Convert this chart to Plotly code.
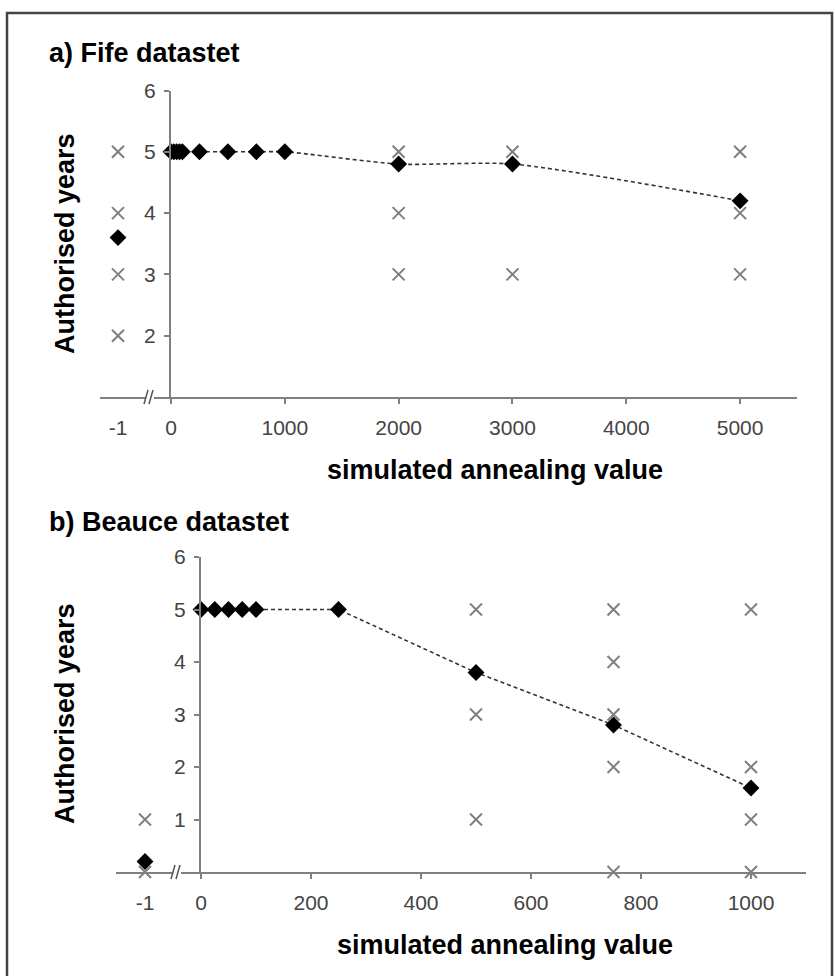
import plotly.graph_objects as go

W, H = 835, 976

# ---------------- data ----------------
fife_sa = [-1, 0, 25, 50, 75, 100, 250, 500, 750, 1000, 2000, 3000, 5000]
fife_mean = [3.6, 5, 5, 5, 5, 5, 5, 5, 5, 5, 4.8, 4.8, 4.2]
fife_run_x = [-1, -1, -1, -1, 2000, 2000, 2000, 3000, 3000, 5000, 5000, 5000]
fife_run_y = [5, 4, 3, 2, 5, 4, 3, 5, 3, 5, 4, 3]

beauce_sa = [-1, 0, 25, 50, 75, 100, 250, 500, 750, 1000]
beauce_mean = [0.2, 5, 5, 5, 5, 5, 5, 3.8, 2.8, 1.6]
beauce_run_x = [-1, -1, 500, 500, 500, 750, 750, 750, 750, 750, 1000, 1000, 1000, 1000]
beauce_run_y = [1, 0, 5, 3, 1, 5, 4, 3, 2, 0, 5, 2, 1, 0]

fife_xticks = [0, 1000, 2000, 3000, 4000, 5000]
beauce_xticks = [0, 200, 400, 600, 800, 1000]
fife_yticks = [2, 3, 4, 5, 6]
beauce_yticks = [1, 2, 3, 4, 5, 6]

# ---------------- helpers ----------------
def px(x):
    return x / W

def py(y):
    return 1 - y / H

CROSS = "#7f7f7f"
AXIS = "#808080"
TICKFONT = dict(family="Liberation Sans, Arial", size=21, color="#444444")
BOLD = "Liberation Sans, Arial"


def split(xs, ys):
    brk = [(x, y) for x, y in zip(xs, ys) if x < 0]
    main = [(x, y) for x, y in zip(xs, ys) if x >= 0]
    return brk, main


fig = go.Figure()


def add_panel(sa, mean, rx, ry, xm, xb, ya, shape, smooth):
    (bm, mm) = split(sa, mean)
    (br, mr) = split(rx, ry)
    cross = dict(symbol="x-thin", size=12, line=dict(color=CROSS, width=2), color=CROSS)
    diam = dict(symbol="diamond", size=13, color="black")
    fig.add_trace(go.Scatter(x=[p[0] for p in mr], y=[p[1] for p in mr], mode="markers",
                             marker=cross, xaxis=xm, yaxis=ya, cliponaxis=False,
                             showlegend=False))
    fig.add_trace(go.Scatter(x=[p[0] for p in br], y=[p[1] for p in br], mode="markers",
                             marker=cross, xaxis=xb, yaxis=ya, cliponaxis=False,
                             showlegend=False))
    line = dict(color="#333333", width=1.6, dash="4px,3px", shape=shape)
    if shape == "spline":
        line["smoothing"] = smooth
    fig.add_trace(go.Scatter(x=[p[0] for p in mm], y=[p[1] for p in mm], mode="lines",
                             line=line, xaxis=xm, yaxis=ya, cliponaxis=False,
                             showlegend=False))
    fig.add_trace(go.Scatter(x=[p[0] for p in mm], y=[p[1] for p in mm], mode="markers",
                             marker=diam, xaxis=xm, yaxis=ya, cliponaxis=False,
                             showlegend=False))
    fig.add_trace(go.Scatter(x=[p[0] for p in bm], y=[p[1] for p in bm], mode="markers",
                             marker=diam, xaxis=xb, yaxis=ya, cliponaxis=False,
                             showlegend=False))


add_panel(fife_sa, fife_mean, fife_run_x, fife_run_y, "x", "x2", "y", "spline", 0.7)
add_panel(beauce_sa, beauce_mean, beauce_run_x, beauce_run_y, "x3", "x4", "y2", "linear", 0)

main_x = dict(showgrid=False, zeroline=False, showline=True, linecolor=AXIS, linewidth=2,
              ticks="outside", ticklen=5, tickwidth=1.5, tickcolor=AXIS, tickfont=TICKFONT,
              ticklabelstandoff=6, automargin=False)
brk_x = dict(showgrid=False, zeroline=False, showline=True, linecolor=AXIS, linewidth=2,
             ticks="", tickfont=TICKFONT, ticklabelstandoff=11, tickvals=[-1], ticktext=["-1"],
             automargin=False)
ax_y = dict(showgrid=False, zeroline=False, showline=True, linecolor=AXIS, linewidth=2,
            ticks="outside", ticklen=5, tickwidth=1.5, tickcolor=AXIS, tickfont=TICKFONT,
            ticklabelstandoff=4, automargin=False)

fig.update_layout(
    width=W, height=H,
    margin=dict(l=0, r=0, t=0, b=0, autoexpand=False),
    paper_bgcolor="white", plot_bgcolor="rgba(0,0,0,0)",
    xaxis=dict(main_x, domain=[px(171), px(797)], range=[0, 5500], tickvals=fife_xticks,
               anchor="y"),
    xaxis2=dict(brk_x, domain=[px(100), px(171)], range=[-1 - 18 / 71, -18 / 71], anchor="y"),
    yaxis=dict(ax_y, domain=[py(397), py(90.5)], range=[1, 6], tickvals=fife_yticks,
               anchor="x"),
    xaxis3=dict(main_x, domain=[px(201), px(806)], range=[0, 1100], tickvals=beauce_xticks,
                anchor="y2"),
    xaxis4=dict(brk_x, domain=[px(116), px(201)], range=[-1 - 29 / 85, -29 / 85], anchor="y2"),
    yaxis2=dict(ax_y, domain=[py(872), py(557)], range=[0, 6], tickvals=beauce_yticks,
                anchor="x3"),
)

# ---------------- titles ----------------
ann = []
ann.append(dict(text="a) Fife datastet", x=px(47), y=py(53), xref="paper", yref="paper",
                xanchor="left", yanchor="middle", showarrow=False,
                font=dict(family=BOLD, size=27, color="black", weight="bold")))
ann.append(dict(text="b) Beauce datastet", x=px(47), y=py(522), xref="paper", yref="paper",
                xanchor="left", yanchor="middle", showarrow=False,
                font=dict(family=BOLD, size=27, color="black", weight="bold")))
for yc in (244, 714):
    ann.append(dict(text="Authorised years", x=px(65), y=py(yc), xref="paper", yref="paper",
                    xanchor="center", yanchor="middle", showarrow=False, textangle=-90,
                    font=dict(family=BOLD, size=27, color="black", weight="bold")))
for xc, yc in ((495, 470), (505, 945)):
    ann.append(dict(text="simulated annealing value", x=px(xc), y=py(yc), xref="paper",
                    yref="paper", xanchor="center", yanchor="middle", showarrow=False,
                    font=dict(family=BOLD, size=27, color="black", weight="bold")))
fig.update_layout(annotations=ann)

# ---------------- axis breaks and frame ----------------
shapes = []
for bx, by in ((150, 397), (177, 872)):
    shapes.append(dict(type="rect", xref="paper", yref="paper",
                       x0=px(bx - 4), x1=px(bx + 4), y0=py(by + 3), y1=py(by - 3),
                       fillcolor="white", line=dict(width=0)))
    for dx in (-4, 1):
        shapes.append(dict(type="line", xref="paper", yref="paper",
                           x0=px(bx + dx - 2), y0=py(by + 7), x1=px(bx + dx + 2), y1=py(by - 7),
                           line=dict(color="#555555", width=1.5)))
shapes.append(dict(type="rect", xref="paper", yref="paper",
                   x0=px(7), x1=px(832), y0=-0.02, y1=py(13),
                   line=dict(color="#444444", width=2.5), fillcolor="rgba(0,0,0,0)"))
fig.update_layout(shapes=shapes)

fig.write_html("out.html")
